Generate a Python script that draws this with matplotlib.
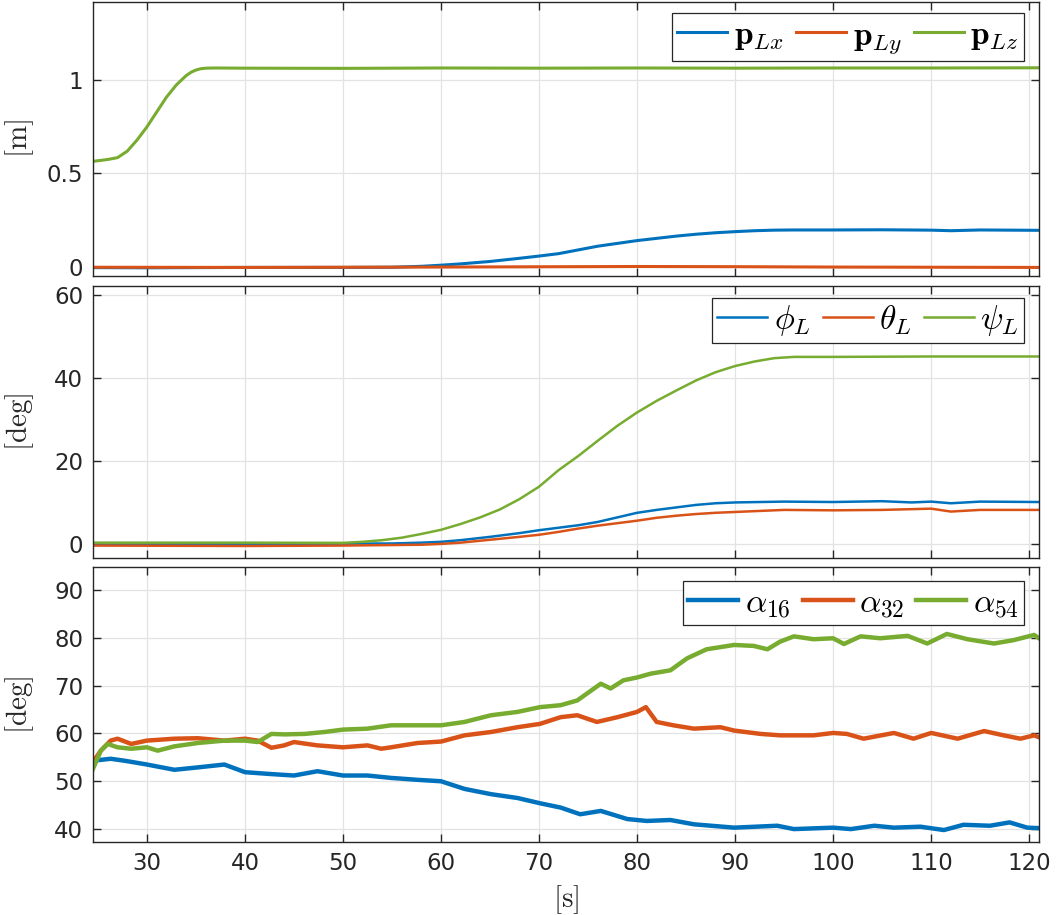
import matplotlib.pyplot as plt
import numpy as np

plt.rcParams['mathtext.fontset'] = 'cm'
plt.rcParams['font.family'] = 'DejaVu Sans'

C_BLUE = '#0072BD'
C_RED = '#D95319'
C_GREEN = '#77AC30'
DARK = '#262626'

# ---- top panel: load position [m]
t_pz = [24.5, 26, 27, 28, 29, 30, 31, 32, 33, 33.5, 34, 34.5, 35, 35.5, 36, 37, 40, 50,
        60, 70, 80, 90, 100, 110, 121]
p_z = [0.565, 0.575, 0.585, 0.62, 0.68, 0.75, 0.83, 0.91, 0.975, 1.0, 1.025, 1.043,
       1.055, 1.062, 1.065, 1.066, 1.065, 1.064, 1.066, 1.065, 1.066, 1.065, 1.066,
       1.066, 1.067]
t_px = [24.5, 30, 40, 50, 55, 58, 60, 62, 65, 68, 70, 72, 74, 76, 78, 80, 82, 84, 86,
        88, 90, 92, 94, 96, 100, 105, 110, 112, 115, 121]
p_x = [-0.005, -0.006, -0.004, -0.004, -0.003, 0.002, 0.008, 0.015, 0.028, 0.045, 0.057,
       0.07, 0.09, 0.11, 0.125, 0.14, 0.152, 0.164, 0.174, 0.182, 0.188, 0.193, 0.196,
       0.197, 0.197, 0.198, 0.196, 0.193, 0.197, 0.195]
t_py = [24.5, 40, 60, 80, 90, 100, 121]
p_y = [-0.003, -0.004, -0.002, 0.001, 0.0, -0.002, -0.004]

# ---- middle panel: load attitude [deg]
t_psi = [24.5, 30, 40, 50, 52, 54, 56, 58, 60, 62, 64, 66, 68, 70, 72, 74, 76, 78, 80,
         82, 84, 86, 88, 90, 92, 94, 96, 100, 110, 121]
psi = [0.3, 0.3, 0.3, 0.25, 0.5, 0.9, 1.5, 2.4, 3.4, 4.8, 6.4, 8.3, 10.8, 13.8, 17.8,
       21.2, 24.9, 28.5, 31.7, 34.5, 37.0, 39.4, 41.4, 42.9, 44.0, 44.8, 45.1, 45.1,
       45.2, 45.2]
t_phi = [24.5, 40, 55, 58, 60, 62, 65, 68, 70, 72, 74, 76, 78, 80, 82, 84, 86, 88, 90,
         95, 100, 105, 108, 110, 112, 115, 121]
phi = [-0.2, 0.0, 0.1, 0.3, 0.5, 0.9, 1.7, 2.6, 3.3, 3.9, 4.5, 5.3, 6.4, 7.5, 8.2, 8.8,
       9.4, 9.8, 10.0, 10.2, 10.1, 10.3, 10.0, 10.2, 9.8, 10.2, 10.1]
t_theta = [24.5, 40, 50, 58, 60, 62, 65, 68, 70, 72, 74, 76, 78, 80, 82, 84, 86, 88, 90,
           95, 100, 105, 110, 112, 115, 121]
theta = [-0.4, -0.5, -0.4, -0.2, 0.0, 0.3, 1.0, 1.7, 2.2, 2.9, 3.7, 4.4, 5.0, 5.6, 6.3,
         6.8, 7.2, 7.5, 7.7, 8.2, 8.1, 8.2, 8.5, 7.8, 8.2, 8.2]

# ---- bottom panel: cable angles [deg]
t_a16 = [24.5, 26.3, 27.7, 30, 32.8, 35.2, 37.9, 40, 42.7, 45, 47.4, 50, 52.5, 54.9,
         57.6, 60, 62.4, 65.1, 67.8, 70.1, 72.2, 74.2, 76.3, 79, 81, 83.4, 85.8, 89.9,
         94.3, 96, 100, 101.8, 104.2, 106.2, 108.9, 111.3, 113.3, 116, 118, 119.8, 121]
a16 = [54.3, 54.7, 54.3, 53.5, 52.4, 52.9, 53.5, 51.9, 51.5, 51.2, 52.1, 51.2, 51.2,
       50.7, 50.3, 50.0, 48.4, 47.3, 46.5, 45.4, 44.5, 43.1, 43.8, 42.1, 41.7, 41.9,
       41.0, 40.3, 40.7, 40.0, 40.3, 40.0, 40.7, 40.3, 40.5, 39.8, 40.9, 40.7, 41.4,
       40.3, 40.2]
t_a32 = [24.5, 25.3, 26.3, 27, 28.4, 30, 32.8, 35.2, 37.9, 40, 41.3, 42.7, 44, 45, 47.4,
         50, 52.5, 53.9, 54.9, 57.6, 60, 62.4, 65.1, 67.8, 70.1, 72.2, 73.9, 75.9, 78,
         80, 80.9, 82, 83.7, 85.8, 88.5, 89.9, 92.6, 94.6, 98, 100, 101.4, 103.1, 106.2,
         108.2, 110, 112.7, 115.4, 117.4, 119.1, 120.5, 121]
a32 = [54.0, 56.4, 58.5, 58.9, 57.8, 58.5, 58.9, 59.0, 58.5, 58.9, 58.5, 57.0, 57.5,
       58.2, 57.5, 57.1, 57.5, 56.8, 57.1, 58.0, 58.3, 59.6, 60.3, 61.3, 62.0, 63.4,
       63.8, 62.4, 63.4, 64.5, 65.5, 62.4, 61.7, 61.0, 61.3, 60.6, 59.9, 59.6, 59.6,
       60.1, 59.9, 58.9, 60.1, 58.9, 60.1, 58.9, 60.5, 59.6, 58.9, 59.6, 59.2]
t_a54 = [24.5, 25.3, 26, 27, 28.4, 30, 31.1, 32.8, 35.2, 37.9, 40, 41.3, 42.7, 44, 46.1,
         48.1, 50, 52.5, 54.9, 57.6, 60, 62.4, 65.1, 67.8, 70.1, 72.2, 73.9, 76.3, 77.3,
         78.6, 80, 81.4, 83.4, 85.1, 87.1, 89.9, 91.9, 93.3, 94.6, 96, 98, 100, 101.1,
         102.8, 104.8, 107.6, 109.6, 111.6, 113.7, 116.4, 118.4, 120.5, 121]
a54 = [52.6, 56.4, 57.8, 57.1, 56.8, 57.1, 56.4, 57.3, 58.0, 58.5, 58.5, 58.2, 59.9,
       59.8, 59.9, 60.3, 60.8, 61.0, 61.7, 61.7, 61.7, 62.4, 63.8, 64.5, 65.5, 65.9,
       66.9, 70.4, 69.4, 71.1, 71.7, 72.5, 73.2, 75.7, 77.6, 78.5, 78.3, 77.6, 79.2,
       80.3, 79.7, 79.9, 78.7, 80.3, 79.9, 80.4, 78.8, 80.8, 79.7, 78.8, 79.5, 80.6, 79.9]

W, H = 1056, 915
fig = plt.figure(figsize=(W / 100, H / 100), dpi=100)

left, right = 93, 1039
panels = [(2, 276), (286, 558), (567, 842)]
axes = []
for top, bot in panels:
    ax = fig.add_axes([left / W, 1 - bot / H, (right - left) / W, (bot - top) / H])
    axes.append(ax)

ax1, ax2, ax3 = axes

ax1.plot(t_px, p_x, color=C_BLUE, lw=2.2, label=r'$\mathbf{p}_{Lx}$')
ax1.plot(t_py, p_y, color=C_RED, lw=2.2, label=r'$\mathbf{p}_{Ly}$')
ax1.plot(t_pz, p_z, color=C_GREEN, lw=2.2, label=r'$\mathbf{p}_{Lz}$')
ax1.set_ylim(-0.05, 1.42)
ax1.set_yticks([0, 0.5, 1])
ax1.set_yticklabels(['0', '0.5', '1'])
ax1.set_ylabel(r'$\mathrm{[m]}$')

ax2.plot(t_phi, phi, color=C_BLUE, lw=1.8, label=r'$\phi_L$')
ax2.plot(t_theta, theta, color=C_RED, lw=1.8, label=r'$\theta_L$')
ax2.plot(t_psi, psi, color=C_GREEN, lw=1.8, label=r'$\psi_L$')
ax2.set_ylim(-3.4, 62.2)
ax2.set_yticks([0, 20, 40, 60])
ax2.set_ylabel(r'$\mathrm{[deg]}$')

ax3.plot(t_a16, a16, color=C_BLUE, lw=3.2, label=r'$\alpha_{16}$')
ax3.plot(t_a32, a32, color=C_RED, lw=3.2, label=r'$\alpha_{32}$')
ax3.plot(t_a54, a54, color=C_GREEN, lw=3.2, label=r'$\alpha_{54}$')
ax3.set_ylim(37.3, 94.8)
ax3.set_yticks([40, 50, 60, 70, 80, 90])
ax3.set_ylabel(r'$\mathrm{[deg]}$')
ax3.set_xlabel(r'$\mathrm{[s]}$', labelpad=6)

leg_tops = [11, 12, 14]
for ax, (top, bot), gap in zip(axes, panels, leg_tops):
    ax.set_xlim(24.5, 121)
    ax.set_xticks(np.arange(30, 121, 10))
    ax.grid(True, color='#e3e3e3', lw=0.9)
    ax.set_axisbelow(True)
    ax.tick_params(direction='in', length=6, width=1, colors=DARK, labelsize=16.5,
                   top=True, right=True, pad=7)
    for s in ax.spines.values():
        s.set_color(DARK)
        s.set_linewidth(1)
    ax.yaxis.label.set_size(21)
    ax.yaxis.label.set_color(DARK)
    ax.yaxis.set_label_coords(-0.06, 0.5)
    h = bot - top
    leg = ax.legend(ncol=3, loc='upper right',
                    bbox_to_anchor=(1 - 15 / (right - left), 1 - gap / h),
                    borderaxespad=0, fontsize=24, fancybox=False, framealpha=1,
                    edgecolor=DARK, handlelength=1.5, handletextpad=0.2,
                    columnspacing=0.35, borderpad=0.15)
    leg.get_frame().set_linewidth(0.9)

ax1.tick_params(labelbottom=False)
ax2.tick_params(labelbottom=False)
ax3.xaxis.label.set_size(21)
ax3.xaxis.label.set_color(DARK)

fig.savefig('out.png', dpi=100)
